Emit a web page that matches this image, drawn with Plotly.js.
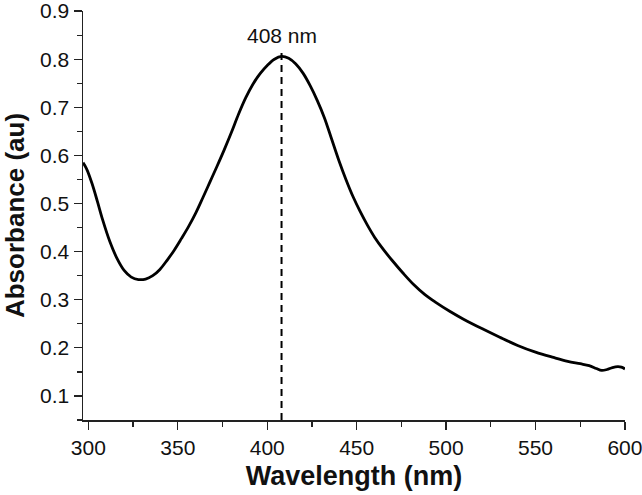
<!DOCTYPE html>
<html>
<head>
<meta charset="utf-8">
<script src="https://cdn.plot.ly/plotly-3.0.1.min.js"></script>
<style>html,body{margin:0;padding:0;background:#fff;}#chart{width:642px;height:495px;}</style>
</head>
<body>
<div id="chart"></div>
<script>
const wavelength = [297, 299, 302, 305, 308, 312, 316, 320, 324, 328, 332, 336, 340, 344, 348, 352, 356, 360, 364, 368, 372, 376, 380, 384, 388, 392, 396, 400, 404, 408, 412, 416, 420, 424, 428, 432, 436, 440, 444, 448, 452, 456, 460, 465, 470, 476, 482, 488, 494, 502, 510, 520, 530, 540, 550, 560, 568, 575, 580, 584, 587, 590, 593, 596, 598, 600];
const absorbance = [0.585, 0.572, 0.542, 0.505, 0.466, 0.421, 0.386, 0.361, 0.347, 0.342, 0.343, 0.350, 0.363, 0.382, 0.403, 0.427, 0.452, 0.480, 0.512, 0.545, 0.578, 0.612, 0.648, 0.686, 0.720, 0.748, 0.770, 0.787, 0.800, 0.806, 0.802, 0.790, 0.771, 0.745, 0.714, 0.678, 0.634, 0.590, 0.550, 0.514, 0.483, 0.455, 0.430, 0.404, 0.381, 0.355, 0.331, 0.311, 0.295, 0.276, 0.259, 0.240, 0.222, 0.205, 0.191, 0.180, 0.172, 0.167, 0.163, 0.157, 0.153, 0.155, 0.159, 0.161, 0.160, 0.156];
const peakWavelength = 408;
const peakLabel = "408 nm";
const peakLineY = [0.05, 0.82];
const xTitle = "Wavelength (nm)";
const yTitle = "Absorbance (au)";

const font = "Liberation Sans, Arial, Helvetica, sans-serif";

const traces = [
  {
    x: wavelength, y: absorbance, type: "scatter", mode: "lines",
    line: {color: "#000", width: 2.8, shape: "spline", smoothing: 1},
    hoverinfo: "skip", showlegend: false, cliponaxis: true
  },
  {
    x: [peakWavelength, peakWavelength], y: peakLineY, type: "scatter", mode: "lines",
    line: {color: "#000", width: 2, dash: "7px,5px"},
    hoverinfo: "skip", showlegend: false
  }
];

const layout = {
  width: 642, height: 495,
  margin: {l: 83, r: 17, t: 11, b: 75},
  paper_bgcolor: "#fff", plot_bgcolor: "#fff",
  font: {family: font, color: "#111"},
  showlegend: false,
  xaxis: {
    range: [297, 600.02], dtick: 50, tick0: 300,
    ticks: "outside", ticklen: 8, tickwidth: 1.3, tickcolor: "#222",
    minor: {dtick: 25, ticks: "outside", ticklen: 5, tickwidth: 1.3, tickcolor: "#222"},
    showline: true, linecolor: "#222", linewidth: 1.5,
    showgrid: false, zeroline: false, ticklabeloverflow: "allow",
    tickfont: {size: 21, family: font, color: "#111"},
    title: {text: xTitle, font: {size: 27, family: font, color: "#111", weight: "bold"}, standoff: 8}
  },
  yaxis: {
    range: [0.05, 0.9002], dtick: 0.1, tick0: 0.1, tickformat: ".1f",
    ticks: "outside", ticklen: 8, tickwidth: 1.3, tickcolor: "#222",
    minor: {dtick: 0.05, ticks: "outside", ticklen: 5, tickwidth: 1.3, tickcolor: "#222"},
    showline: true, linecolor: "#222", linewidth: 1.5,
    showgrid: false, zeroline: false, ticklabeloverflow: "allow",
    tickfont: {size: 21, family: font, color: "#111"},
    title: {text: yTitle, font: {size: 26, family: font, color: "#111", weight: "bold"}, standoff: 11}
  },
  annotations: [{
    x: peakWavelength, y: 0.85, xref: "x", yref: "y",
    text: peakLabel, showarrow: false,
    font: {size: 21, family: font, color: "#111"},
    xanchor: "center", yanchor: "middle"
  }]
};

Plotly.newPlot("chart", traces, layout, {displayModeBar: false, staticPlot: true});
</script>
</body>
</html>
